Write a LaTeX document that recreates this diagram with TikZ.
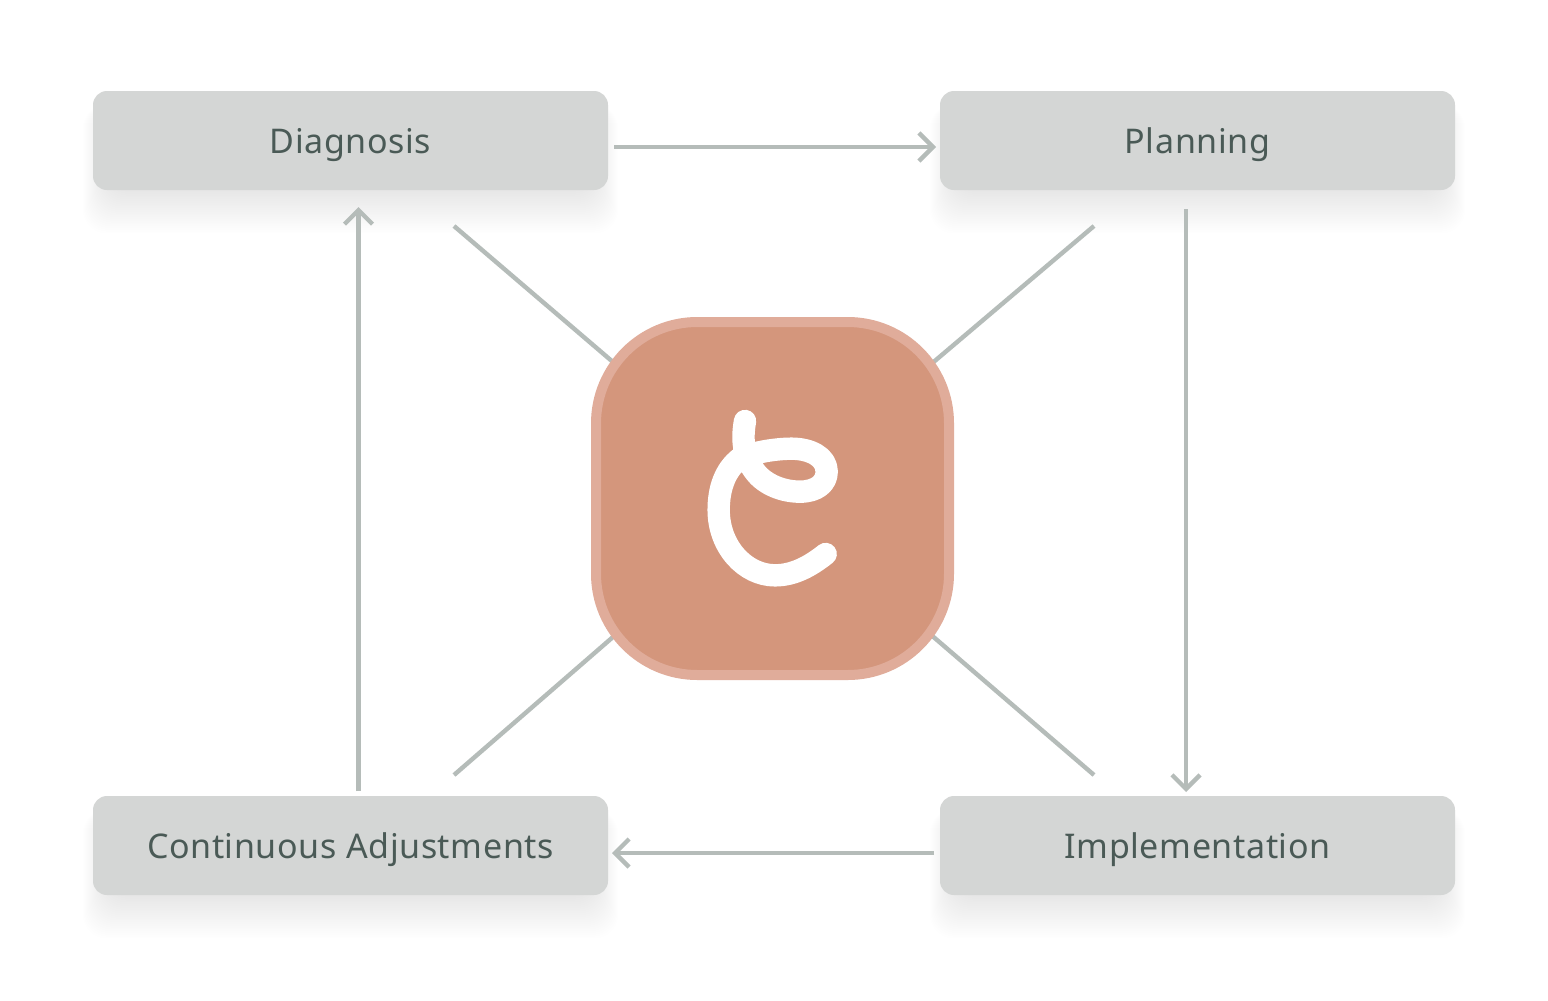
\documentclass[tikz,border=0pt]{standalone}
\usepackage{fontspec}
\setmainfont[LetterSpace=1.8,Ligatures=NoCommon]{Noto Sans}
\usetikzlibrary{arrows.meta,calc,backgrounds}
\definecolor{boxfill}{HTML}{D4D6D5}
\definecolor{boxtext}{HTML}{4A5A56}
\definecolor{linegrey}{HTML}{B5BCB9}
\definecolor{hubfill}{HTML}{D4967C}
\definecolor{hubedge}{HTML}{E0AC9A}
\tikzset{
  stagebox/.style={fill=boxfill,rounded corners=10.5pt,minimum width=386.25pt,minimum height=74.25pt,
    inner sep=0pt,text=boxtext,font=\fontsize{25.5}{30}\selectfont,text height=24pt,text depth=5.2pt},
  flow/.style={draw=linegrey,line width=3.3pt,-{Straight Barb[length=10.5pt,width=21pt,line width=3.3pt]}},
  spoke/.style={draw=linegrey,line width=3.3pt},
  hubbox/.style={fill=hubfill,draw=hubedge,line width=7.5pt,rounded corners=76pt,minimum width=264.75pt,minimum height=264.75pt,inner sep=0pt},
  logo/.style={draw=white,line width=16.8pt,line cap=round,line join=round},
  shadowlayer/.style={fill=black,fill opacity=0.0042}
}
\newcommand{\softshadow}[1]{%
  \foreach \g in {0,1,...,24}{%
    \fill[shadowlayer,rounded corners=18pt]
      ($(#1.south west)+(14-\g*1,\g*1.8)$) rectangle ($(#1.north east)+(-14+\g*1,14)$);
  }%
}
\begin{document}
\begin{tikzpicture}[x=0.75pt,y=-0.75pt]
\useasboundingbox (0,0) rectangle (1548,1000);
\node[stagebox] (diag) at (350.5,140.5) {Diagnosis};
\node[stagebox] (plan) at (1197.5,140.5) {Planning};
\node[stagebox] (cont) at (350.5,845.5) {Continuous Adjustments};
\node[stagebox] (impl) at (1197.5,845.5) {Implementation};
\node[hubbox] (hub) at (772.5,498.5) {};
\coordinate (sTL) at (454,226);
\coordinate (sTR) at (1094,226);
\coordinate (sBL) at (454,775);
\coordinate (sBR) at (1094,775);
\coordinate (aRs) at (614,147);
\coordinate (aRe) at (936,147);
\coordinate (aDs) at (1186,209);
\coordinate (aDe) at (1186,792);
\coordinate (aLs) at (934,853);
\coordinate (aLe) at (612,853);
\coordinate (aUs) at (358.5,791);
\coordinate (aUe) at (358.5,207);
\begin{scope}[on background layer]
  \fill[white] (0,0) rectangle (1548,1000);
  \softshadow{diag}\softshadow{plan}\softshadow{cont}\softshadow{impl}
  \draw[spoke] (sTL) -- (hub.center);
  \draw[spoke] (sTR) -- (hub.center);
  \draw[spoke] (sBL) -- (hub.center);
  \draw[spoke] (sBR) -- (hub.center);
\end{scope}
\draw[flow] (aRs) -- (aRe);
\draw[flow] (aDs) -- (aDe);
\draw[flow] (aLs) -- (aLe);
\draw[flow] (aUs) -- (aUe);
\begin{scope}[shift={(680,390)},x=0.25pt,y=-0.25pt]
\draw[logo] (195,93) .. controls (185,150) and (190,200) .. (225,245)
  .. controls (255,285) and (310,305) .. (360,305)
  .. controls (410,305) and (440,280) .. (440,245)
  .. controls (440,200) and (390,176) .. (335,176)
  .. controls (280,176) and (210,190) .. (180,205)
  .. controls (135,240) and (116,295) .. (116,360)
  .. controls (116,470) and (195,556) .. (285,556)
  .. controls (345,556) and (395,525) .. (437,492);
\end{scope}
\end{tikzpicture}
\end{document}
